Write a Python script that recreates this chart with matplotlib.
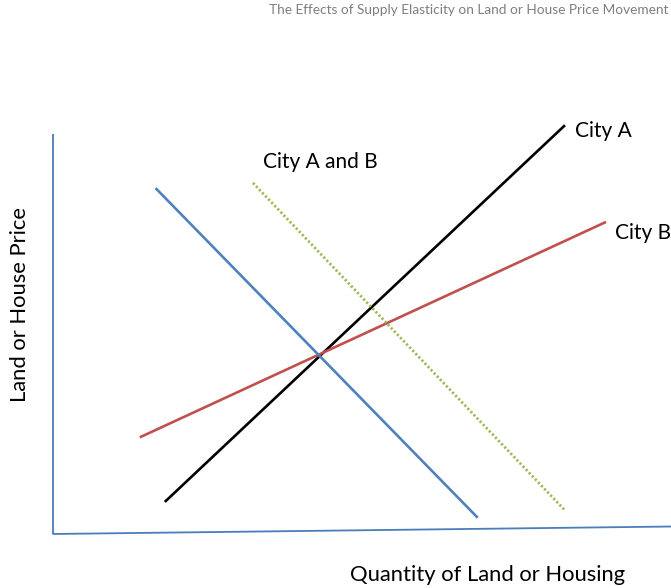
import matplotlib
matplotlib.use("Agg")
import matplotlib.pyplot as plt

plt.rcParams['font.family'] = ['Lato', 'DejaVu Sans']

# Schematic data (0-100 quantity / price scale)
title = "The Effects of Supply Elasticity on Land or House Price Movement"
x_label = "Quantity of Land or Housing"
y_label = "Land or House Price"

supply_a_x = [18.3, 82.7]      # City A supply (steep)
supply_a_y = [7.5, 92.7]
supply_b_x = [14.3, 89.3]      # City B supply (flatter)
supply_b_y = [22.1, 70.8]
demand_x = [16.8, 68.6]        # original demand
demand_y = [78.4, 3.9]
demand2_x = [32.4, 82.7]       # shifted demand (City A and B)
demand2_y = [79.8, 5.6]

labels = ["City A", "City B", "City A and B"]
label_x = [84.5, 91.0, 34.0]
label_y = [91.6, 68.3, 84.5]

W, H = 671, 588
fig = plt.figure(figsize=(W / 100, H / 100), dpi=100)
left_px, right_px, bottom_px, top_px = 52.6, 671.0, 534.0, 94.0
ax = fig.add_axes([left_px / W, (H - bottom_px) / H,
                   (right_px - left_px) / W, (bottom_px - top_px) / H])
ax.set_xlim(0, 100)
ax.set_ylim(0, 100)
ax.axis('off')

axis_col = '#4A7EBB'
ax.plot([0, 0], [0, 90.9], color=axis_col, lw=1.3, clip_on=False, solid_capstyle='butt')
ax.plot([0, 100], [0, 1.7], color=axis_col, lw=1.3, clip_on=False, solid_capstyle='butt')

ax.plot(supply_a_x, supply_a_y, color='black', lw=1.9, clip_on=False)
ax.plot(supply_b_x, supply_b_y, color='#C0504D', lw=1.9, clip_on=False)
ax.plot(demand_x, demand_y, color='#4F81BD', lw=1.9, clip_on=False)
ax.plot(demand2_x, demand2_y, color='#9BBB59', lw=2.0, clip_on=False,
        linestyle=(0, (0.8, 0.8)), dash_capstyle='butt')

for t, lx, ly in zip(labels, label_x, label_y):
    ax.text(lx, ly, t, fontsize=15, color='black', ha='left', va='center')

fig.text(668 / W, 1 - 10 / H, title, fontsize=9.8, color='#7F7F7F',
         ha='right', va='center')
fig.text(488 / W, 1 - 575 / H, x_label, fontsize=15.8, color='black',
         ha='center', va='center')
fig.text(20 / W, 1 - 305 / H, y_label, fontsize=15.8, color='black',
         ha='center', va='center', rotation=90)

fig.savefig('out.png', dpi=100, facecolor='white')
